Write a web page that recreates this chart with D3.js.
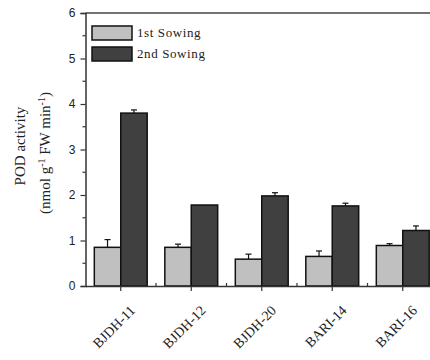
<!DOCTYPE html>
<html>
<head>
<meta charset="utf-8">
<script src="https://cdn.jsdelivr.net/npm/d3@7"></script>
<style>
  body { margin: 0; background: #fff; }
  svg { display: block; }
</style>
</head>
<body>
<div id="chart"></div>
<script>
// data
var cultivars = ["BJDH-11", "BJDH-12", "BJDH-20", "BARI-14", "BARI-16"];
var sowing1 = [0.85, 0.85, 0.59, 0.65, 0.89];
var sowing1Err = [0.17, 0.07, 0.11, 0.12, 0.04];
var sowing2 = [3.80, 1.78, 1.98, 1.76, 1.22];
var sowing2Err = [0.07, 0.0, 0.07, 0.06, 0.10];
var seriesNames = ["1st Sowing", "2nd Sowing"];
var yTicks = [0, 1, 2, 3, 4, 5, 6];

var width = 430, height = 360;
var plotLeft = 85.5, plotTop = 13, plotBottom = 286, plotRight = 438;

var svg = d3.select("#chart").append("svg")
  .attr("width", width)
  .attr("height", height);

var x = d3.scaleBand()
  .domain(cultivars)
  .range([plotLeft, plotRight])
  .paddingInner(0.25)
  .paddingOuter(0.125);

var xs = d3.scaleBand()
  .domain(seriesNames)
  .range([0, x.bandwidth()]);

var y = d3.scaleLinear()
  .domain([0, 6])
  .range([plotBottom, plotTop]);

var colors = ["#c0c0c0", "#404040"];

var rows = cultivars.map(function(c, i) {
  return [
    {name: seriesNames[0], cat: c, value: sowing1[i], err: sowing1Err[i], col: colors[0]},
    {name: seriesNames[1], cat: c, value: sowing2[i], err: sowing2Err[i], col: colors[1]}
  ];
});
var flat = [].concat.apply([], rows);

// error bars (drawn first, only upper half shows)
var eb = svg.append("g").selectAll("g")
  .data(flat)
  .enter().append("g")
  .attr("stroke", "#111")
  .attr("stroke-width", 1.2);

eb.append("line")
  .attr("x1", function(d) { return x(d.cat) + xs(d.name) + xs.bandwidth() / 2; })
  .attr("x2", function(d) { return x(d.cat) + xs(d.name) + xs.bandwidth() / 2; })
  .attr("y1", function(d) { return y(d.value); })
  .attr("y2", function(d) { return y(d.value + d.err); });

eb.append("line")
  .attr("x1", function(d) { return x(d.cat) + xs(d.name) + xs.bandwidth() / 2 - 3; })
  .attr("x2", function(d) { return x(d.cat) + xs(d.name) + xs.bandwidth() / 2 + 3; })
  .attr("y1", function(d) { return y(d.value + d.err); })
  .attr("y2", function(d) { return y(d.value + d.err); })
  .attr("display", function(d) { return d.err > 0 ? null : "none"; });

// bars
svg.append("g").selectAll("rect")
  .data(flat)
  .enter().append("rect")
  .attr("x", function(d) { return x(d.cat) + xs(d.name); })
  .attr("y", function(d) { return y(d.value); })
  .attr("width", xs.bandwidth())
  .attr("height", function(d) { return plotBottom - y(d.value); })
  .attr("fill", function(d) { return d.col; })
  .attr("stroke", "#111")
  .attr("stroke-width", 1.5);

// frame
svg.append("line")
  .attr("x1", plotLeft).attr("x2", width)
  .attr("y1", plotTop).attr("y2", plotTop)
  .attr("stroke", "#444").attr("stroke-width", 1.5);

// y axis
var yAxis = svg.append("g")
  .attr("transform", "translate(" + plotLeft + ",0)")
  .call(d3.axisLeft(y).tickValues(yTicks).tickSize(5).tickPadding(5).tickFormat(d3.format("d")));
yAxis.select(".domain").attr("stroke", "#333").attr("stroke-width", 1.5);
yAxis.selectAll(".tick line").attr("stroke", "#333").attr("stroke-width", 1.2);
yAxis.selectAll("text")
  .attr("font-family", "Liberation Sans, Arial, sans-serif")
  .attr("font-size", 12)
  .attr("fill", "#222");

var yMinor = d3.range(0.5, 6, 1);
svg.append("g").selectAll("line")
  .data(yMinor)
  .enter().append("line")
  .attr("x1", plotLeft - 3).attr("x2", plotLeft)
  .attr("y1", function(d) { return y(d); })
  .attr("y2", function(d) { return y(d); })
  .attr("stroke", "#333").attr("stroke-width", 1.2);

// x axis
var xAxis = svg.append("g")
  .attr("transform", "translate(0," + plotBottom + ")")
  .call(d3.axisBottom(x).tickSize(5).tickSizeOuter(0).tickPadding(4));
xAxis.select(".domain").attr("stroke", "#333").attr("stroke-width", 1.5);
xAxis.selectAll(".tick line").attr("stroke", "#333").attr("stroke-width", 1.2);
xAxis.selectAll("text")
  .attr("font-family", "Liberation Serif, Times New Roman, serif")
  .attr("font-size", 14)
  .attr("fill", "#222")
  .attr("text-anchor", "end")
  .attr("dy", "0.3em")
  .attr("transform", "translate(6,16) rotate(-45)");

// minor x ticks between groups, pointing inward
svg.append("g").selectAll("line")
  .data(cultivars.slice(1))
  .enter().append("line")
  .attr("x1", function(d) { return x(d) - x.step() * x.paddingInner() / 2; })
  .attr("x2", function(d) { return x(d) - x.step() * x.paddingInner() / 2; })
  .attr("y1", plotBottom).attr("y2", plotBottom - 3)
  .attr("stroke", "#333").attr("stroke-width", 1.2);

// legend
var legend = svg.append("g").selectAll("g")
  .data(seriesNames)
  .enter().append("g")
  .attr("transform", function(d, i) { return "translate(92," + (26 + i * 21) + ")"; });

legend.append("rect")
  .attr("width", 40).attr("height", 14)
  .attr("fill", function(d, i) { return colors[i]; })
  .attr("stroke", "#111").attr("stroke-width", 1.5);

legend.append("text")
  .attr("x", 45).attr("y", 11)
  .attr("font-family", "Liberation Serif, Times New Roman, serif")
  .attr("font-size", 13)
  .attr("letter-spacing", 0.6)
  .attr("fill", "#222")
  .text(function(d) { return d; });

// y label
var ylab = svg.append("text")
  .attr("transform", "translate(25,146) rotate(-90)")
  .attr("text-anchor", "middle")
  .attr("font-family", "Liberation Serif, Times New Roman, serif")
  .attr("font-size", 15)
  .attr("fill", "#222");
ylab.append("tspan").attr("x", 0).attr("y", 0).text("POD activity");

var ylab2 = svg.append("text")
  .attr("transform", "translate(50,153) rotate(-90)")
  .attr("text-anchor", "middle")
  .attr("font-family", "Liberation Serif, Times New Roman, serif")
  .attr("font-size", 15)
  .attr("fill", "#222");
ylab2.append("tspan").text("(nmol g");
ylab2.append("tspan").attr("dy", -5).attr("font-size", 10).text("-1");
ylab2.append("tspan").attr("dy", 5).text(" FW min");
ylab2.append("tspan").attr("dy", -5).attr("font-size", 10).text("-1");
ylab2.append("tspan").attr("dy", 5).text(")");
</script>
</body>
</html>
